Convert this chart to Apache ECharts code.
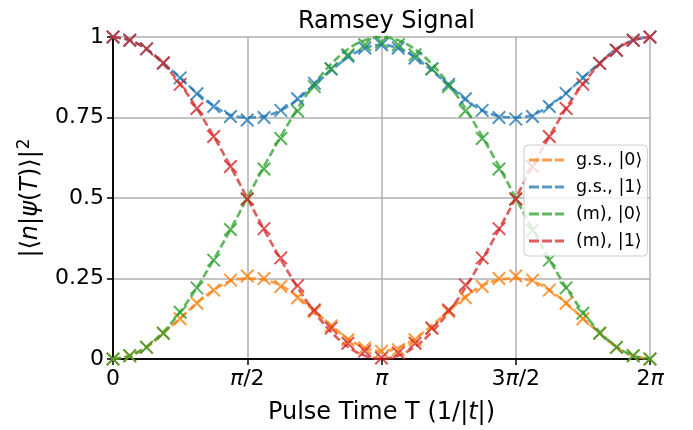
<!DOCTYPE html>
<html>
<head>
<meta charset="utf-8">
<script src="https://cdn.jsdelivr.net/npm/echarts@6/dist/echarts.min.js"></script>
<style>html,body{margin:0;padding:0;background:#fff}#c{width:693px;height:430px}</style>
</head>
<body>
<div id="c"></div>
<script>
// Pulse time T, in units of pi
const tPi = [0,0.0625,0.125,0.1875,0.25,0.3125,0.375,0.4375,0.5,0.5625,0.625,0.6875,0.75,0.8125,0.875,0.9375,1,1.0625,1.125,1.1875,1.25,1.3125,1.375,1.4375,1.5,1.5625,1.625,1.6875,1.75,1.8125,1.875,1.9375,2];

// dashed curves
const gs0Line = [0,0.01,0.037,0.081,0.126,0.174,0.214,0.242,0.25,0.246,0.228,0.194,0.149,0.104,0.063,0.035,0.024,0.035,0.063,0.104,0.149,0.194,0.228,0.246,0.25,0.242,0.214,0.174,0.126,0.081,0.037,0.01,0];
const gs1Line = [1,0.99,0.963,0.919,0.874,0.826,0.786,0.758,0.75,0.754,0.772,0.806,0.851,0.896,0.937,0.965,0.976,0.965,0.937,0.896,0.851,0.806,0.772,0.754,0.75,0.758,0.786,0.826,0.874,0.919,0.963,0.99,1];
const m0Line = [0,0.01,0.038,0.084,0.146,0.222,0.309,0.402,0.5,0.598,0.691,0.778,0.854,0.916,0.962,0.99,1,0.99,0.962,0.916,0.854,0.778,0.691,0.598,0.5,0.402,0.309,0.222,0.146,0.084,0.038,0.01,0];
const m1Line = [1,0.99,0.962,0.916,0.854,0.778,0.691,0.598,0.5,0.402,0.309,0.222,0.146,0.084,0.038,0.01,0,0.01,0.038,0.084,0.146,0.222,0.309,0.402,0.5,0.598,0.691,0.778,0.854,0.916,0.962,0.99,1];

// x markers
const gs0Mk = [0,0.01,0.037,0.08,0.125,0.173,0.214,0.245,0.258,0.25,0.225,0.19,0.147,0.103,0.06,0.034,0.024,0.029,0.06,0.096,0.147,0.19,0.225,0.25,0.258,0.245,0.214,0.173,0.125,0.08,0.036,0.01,0];
const gs1Mk = [1,0.99,0.963,0.918,0.873,0.824,0.784,0.753,0.742,0.75,0.772,0.808,0.856,0.901,0.94,0.966,0.976,0.966,0.935,0.901,0.853,0.808,0.772,0.75,0.745,0.753,0.784,0.825,0.873,0.918,0.959,0.99,1];
const m0Mk = [0,0.01,0.036,0.08,0.145,0.221,0.307,0.402,0.497,0.59,0.685,0.77,0.846,0.901,0.945,0.976,0.984,0.976,0.945,0.901,0.846,0.77,0.685,0.59,0.497,0.4,0.307,0.221,0.142,0.08,0.036,0.01,0];
const m1Mk = [1,0.99,0.963,0.92,0.853,0.778,0.691,0.598,0.497,0.405,0.314,0.228,0.152,0.096,0.049,0.025,0.003,0.019,0.049,0.096,0.152,0.23,0.314,0.405,0.497,0.598,0.691,0.778,0.853,0.918,0.959,0.99,1];

const names = ['g.s., |0⟩','g.s., |1⟩','(m), |0⟩','(m), |1⟩'];
const colors = ['#ff7f0e','#1f77b4','#2ca02c','#d62728'];
const xTickLabels = {0:'0',0.5:'{i|π}/2',1:'{i|π}',1.5:'3{i|π}/2',2:'2{i|π}'};

const FONT = 'DejaVu Sans';
const lines = [gs0Line, gs1Line, m0Line, m1Line];
const marks = [gs0Mk, gs1Mk, m0Mk, m1Mk];
const pair = (arr) => arr.map((v, i) => [tPi[i], v]);

const series = [];
lines.forEach((arr, s) => {
  series.push({
    name: names[s], type: 'line', data: pair(arr), smooth: 0.35,
    symbol: 'none', showSymbol: false, z: 2,
    itemStyle: {color: colors[s]},
    lineStyle: {color: colors[s], width: 2.7, type: [8, 3.5], opacity: 0.75},
    emphasis: {disabled: true}, animation: false
  });
});
marks.forEach((arr, s) => {
  series.push({
    name: names[s] + ' pts', type: 'scatter', data: pair(arr), z: 3,
    symbol: 'path://M0,0L10,10M10,0L0,10', symbolSize: 12.5,
    itemStyle: {color: 'rgba(0,0,0,0)', borderColor: colors[s], borderWidth: 2},
    emphasis: {disabled: true}, animation: false
  });
});

const dashIcon = 'path://M0,0h10v3h-10z M13,0h10v3h-10z M26,0h9v3h-9z';

const chart = echarts.init(document.getElementById('c'), null, {renderer: 'canvas'});
chart.setOption({
  animation: false,
  backgroundColor: '#fff',
  textStyle: {fontFamily: FONT, color: '#000'},
  title: {
    text: 'Ramsey Signal', left: 381.5, top: 5, textAlign: 'center',
    textStyle: {fontFamily: FONT, fontSize: 24, fontWeight: 'normal', color: '#000'}
  },
  grid: {left: 113, right: 43, top: 37, bottom: 69, containLabel: false},
  legend: {
    orient: 'vertical', left: 524, top: 145,
    data: names.map(n => ({name: n, icon: dashIcon, itemStyle: {opacity: 0.75}})),
    itemWidth: 35, itemHeight: 3, itemGap: 7,
    padding: [5, 5, 5, 5],
    backgroundColor: 'rgba(255,255,255,0.8)', borderColor: '#cccccc', borderWidth: 1, borderRadius: 4,
    textStyle: {fontFamily: FONT, fontSize: 17.5, color: '#000', lineHeight: 20, padding: [0, 0, 0, 7]},
    selectedMode: false
  },
  xAxis: [{
    type: 'value', min: 0, max: 2, interval: 0.5,
    name: 'Pulse Time T (1/|{i|t}|)', nameLocation: 'middle', nameGap: 42,
    nameTextStyle: {fontFamily: FONT, fontSize: 24, color: '#000',
      rich: {i: {fontFamily: FONT, fontStyle: 'italic', fontSize: 24, color: '#000'}}},
    axisLine: {show: true, onZero: false, lineStyle: {color: '#000', width: 1.5}},
    axisTick: {show: true, length: 6, lineStyle: {color: '#000', width: 1.5}},
    axisLabel: {
      fontFamily: FONT, fontSize: 22, color: '#000', margin: 9,
      formatter: v => xTickLabels[v] !== undefined ? xTickLabels[v] : '',
      rich: {i: {fontFamily: FONT, fontStyle: 'italic', fontSize: 22, color: '#000'}}
    },
    splitLine: {show: true, lineStyle: {color: '#b0b0b0', width: 1.5}}
  }, {
    type: 'value', position: 'top', min: 0, max: 2, interval: 0.5,
    axisLine: {show: true, lineStyle: {color: '#000', width: 1.5}},
    axisTick: {show: false}, axisLabel: {show: false}, splitLine: {show: false}
  }],
  yAxis: [{
    type: 'value', min: 0, max: 1, interval: 0.25,
    name: '|⟨{i|n}|{i|ψ}({i|T})⟩|{s|2}', nameLocation: 'middle', nameGap: 68, nameRotate: 90,
    nameTextStyle: {fontFamily: FONT, fontSize: 24, color: '#000',
      rich: {
        i: {fontFamily: FONT, fontStyle: 'italic', fontSize: 24, color: '#000'},
        s: {fontFamily: FONT, fontSize: 17, color: '#000', verticalAlign: 'top', padding: [0, 0, 12, 1]}
      }},
    axisLine: {show: true, onZero: false, lineStyle: {color: '#000', width: 1.5}},
    axisTick: {show: true, length: 6, lineStyle: {color: '#000', width: 1.5}},
    axisLabel: {fontFamily: FONT, fontSize: 22, color: '#000', margin: 9},
    splitLine: {show: true, lineStyle: {color: '#b0b0b0', width: 1.5}}
  }, {
    type: 'value', position: 'right', min: 0, max: 1, interval: 0.25,
    axisLine: {show: true, lineStyle: {color: '#000', width: 1.5}},
    axisTick: {show: false}, axisLabel: {show: false}, splitLine: {show: false}
  }],
  series: series
});
</script>
</body>
</html>
